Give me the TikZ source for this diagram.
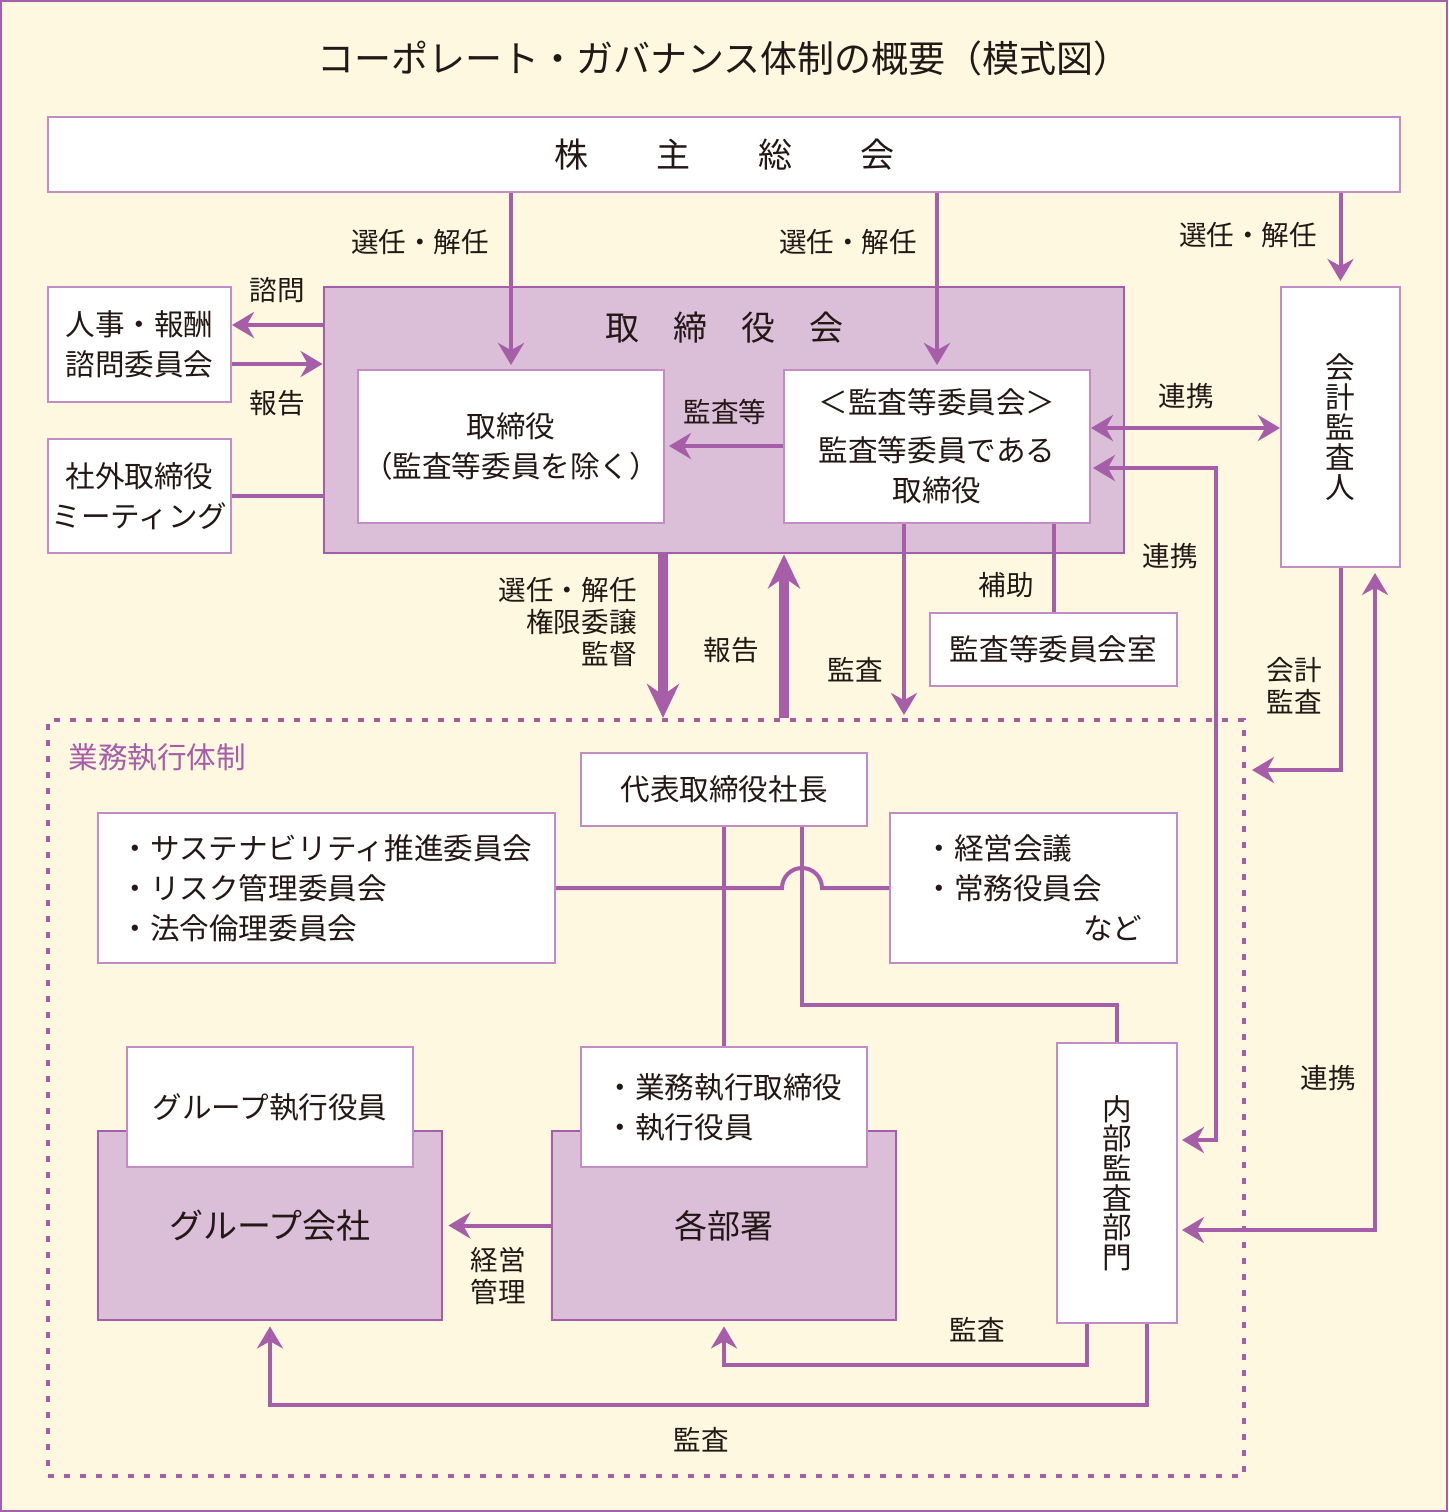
\documentclass[tikz,border=0pt]{standalone}
\usepackage{fontspec}
\setmainfont{Noto Sans CJK JP}
\usetikzlibrary{arrows.meta,calc,positioning}
\definecolor{cream}{RGB}{255,248,225}
\definecolor{plum}{RGB}{166,94,168}
\definecolor{lilac}{RGB}{219,191,217}
\definecolor{boxline}{RGB}{196,140,196}
\definecolor{ink}{RGB}{35,24,21}

\begin{document}
\begin{tikzpicture}[x=0.5pt,y=-0.5pt,
    every node/.style={font=\fontsize{14.8pt}{20pt}\selectfont, text=ink, inner sep=0pt},
    box/.style={draw=boxline, line width=1pt, fill=white},
    panel/.style={draw=plum, line width=1.4pt, fill=lilac},
    lbl/.style={font=\fontsize{13.8pt}{16pt}\selectfont},
    conn/.style={draw=plum, line width=2pt},
    arr/.style={conn, -{Stealth[length=11pt,width=13pt]}},
    twoway/.style={conn, {Stealth[length=11pt,width=13pt]}-{Stealth[length=11pt,width=13pt]}},
    bigarr/.style={draw=plum, line width=5pt, -{Stealth[length=17pt,width=16pt]}}]
    \useasboundingbox (0,0) rectangle (1448,1512);
    \fill[cream] (0,0) rectangle (1448,1512);
    \draw[plum, line width=1pt] (1,1) rectangle (1447,1511);
    \node[font=\fontsize{18.5pt}{22pt}\selectfont] (title) at (724,58) {コーポレート・ガバナンス体制の概要（模式図）};

    % top part
    \node[box, minimum width=676pt, minimum height=37.5pt, font=\fontsize{17pt}{20pt}\selectfont] (meeting) at (724,154.5) {株　　主　　総　　会};
    \node[panel, minimum width=400pt, minimum height=133pt] (board) at (724,420) {};
    \node[font=\fontsize{17pt}{20pt}\selectfont] (boardtitle) at (724,328) {取　締　役　会};
    \node[box, minimum width=153pt, minimum height=76.5pt, align=center] (director) at (511,446.5) {取締役\\（監査等委員を除く）};
    \node[box, minimum width=153pt, minimum height=76.5pt, align=center] (auditcom) at (937,446.5) {＜監査等委員会＞\\[4pt]監査等委員である\\取締役};
    \node[box, minimum width=91.5pt, minimum height=57.5pt, align=center] (advisory) at (139.5,344.5) {人事・報酬\\諮問委員会};
    \node[box, minimum width=91.5pt, minimum height=57pt, align=center] (outside) at (139.5,496) {社外取締役\\ミーティング};
    \node[box, minimum width=59.5pt, minimum height=140pt, align=center, font=\fontsize{14.8pt}{15pt}\selectfont] (auditor) at (1340.5,427) {会\\計\\監\\査\\人};
    \node[box, minimum width=123.5pt, minimum height=36.5pt] (auditroom) at (1053.5,649.5) {監査等委員会室};

    % execution part
    \node[draw=plum, line width=2pt, dash pattern=on 3pt off 5pt, minimum width=598pt, minimum height=378pt] (execframe) at (646,1098) {};
    \node[anchor=west, text=plum] (exectitle) at (68,757) {業務執行体制};
    \node[box, minimum width=143pt, minimum height=36.5pt] (ceo) at (724,789.5) {代表取締役社長};
    \node[box, minimum width=228.5pt, minimum height=75pt, align=left] (committees) at (326.5,888) {・サステナビリティ推進委員会\\・リスク管理委員会\\・法令倫理委員会};
    \node[box, minimum width=143.5pt, minimum height=75pt, align=left, text width=109pt] (councils) at (1033.5,888) {・経営会議\\・常務役員会\\\hspace*{\fill}など};
    \node[panel, minimum width=172pt, minimum height=94.5pt, font=\fontsize{17pt}{20pt}\selectfont] (group) at (270,1225.5) {グループ会社};
    \node[box, minimum width=143pt, minimum height=60pt] (groupexec) at (270,1107) {グループ執行役員};
    \node[panel, minimum width=172pt, minimum height=94.5pt, font=\fontsize{16.5pt}{20pt}\selectfont] (depts) at (724,1225.5) {各部署};
    \node[box, minimum width=143pt, minimum height=60pt, align=left] (execdir) at (724,1107) {・業務執行取締役\\・執行役員};
    \node[box, minimum width=60pt, minimum height=140pt, align=center, font=\fontsize{14.8pt}{14.8pt}\selectfont] (internal) at (1117,1183) {内\\部\\監\\査\\部\\門};

    % connectors
    \draw[arr] (board.west |- 0,325) -- (advisory.east |- 0,325);
    \draw[arr] (advisory.east |- 0,364) -- (board.west |- 0,364);
    \draw[conn] (outside.east) -- (board.west |- outside.east);
    \draw[arr, shorten >=2pt] (meeting.south -| director) -- (director.north);
    \draw[arr, shorten >=2pt] (meeting.south -| auditcom) -- (auditcom.north);
    \draw[arr, shorten >=2.5pt] (meeting.south -| auditor) -- (auditor.north);
    \draw[twoway] (auditcom.east |- 0,428) -- (auditor.west |- 0,428);
    \draw[arr, shorten >=2pt] (auditcom.west |- 0,446) -- (director.east |- 0,446);
    \draw[conn] (auditcom.south -| auditroom) -- (auditroom.north);
    \draw[arr, shorten >=1.5pt] (auditcom.south -| 904,0) -- (execframe.north -| 904,0);
    \draw[bigarr] (board.south -| 663,0) -- (execframe.north -| 663,0);
    \draw[bigarr] (execframe.north -| 784,0) -- (board.south -| 784,0);
    \draw[arr, shorten >=3pt] (auditor.south) -- (auditor.south |- 0,770) -- (execframe.east |- 0,770);
    \draw[twoway, shorten <=2.5pt, shorten >=2pt] (auditor.south -| 1375,0) -- (1375,1230) -- (internal.east |- 0,1230);
    \draw[twoway, shorten >=2pt, shorten <=1pt] (auditcom.east |- 0,468) -- (1216,468) |- (internal.east |- 0,1140);
    \draw[conn] (committees.east) -- (782,888) arc[start angle=180, end angle=0, radius=10pt] -- (councils.west);
    \draw[conn] (ceo.south) -- (execdir.north);
    \draw[conn] (ceo.south -| 802,0) -- (802,1005) -| (internal.north);
    \draw[arr, shorten >=2.5pt] (depts.west) -- (group.east);
    \draw[arr, shorten >=2.5pt] (internal.south -| 1087,0) -- (1087,1365) -| (depts.south);
    \draw[arr, shorten >=2.5pt] (internal.south -| 1147,0) -- (1147,1405) -| (group.south);

    % labels
    \foreach \x/\y [count=\i] in {420/242, 848/242, 1248/235}
        \node[lbl] (elect\i) at (\x,\y) {選任・解任};
    \node[lbl] (consult) at (277,290) {諮問};
    \node[lbl] (reportA) at (277,403) {報告};
    \node[lbl] (auditetc) at (725,412) {監査等};
    \node[lbl] (linkA) at (1186,396) {連携};
    \node[lbl] (linkB) at (1170,556) {連携};
    \node[lbl] (assist) at (1006,585) {補助};
    \node[lbl] (auditA) at (855,670) {監査};
    \node[lbl, anchor=east, align=right] (delegate) at (637,622) {選任・解任\\権限委譲\\監督};
    \node[lbl] (reportB) at (731,650) {報告};
    \node[lbl, align=center] (acctaudit) at (1294,686) {会計\\監査};
    \node[lbl] (linkC) at (1328,1078) {連携};
    \node[lbl, align=center] (manage) at (498,1276) {経営\\管理};
    \node[lbl] (auditB) at (977,1330) {監査};
    \node[lbl] (auditC) at (701,1440) {監査};
\end{tikzpicture}
\end{document}
